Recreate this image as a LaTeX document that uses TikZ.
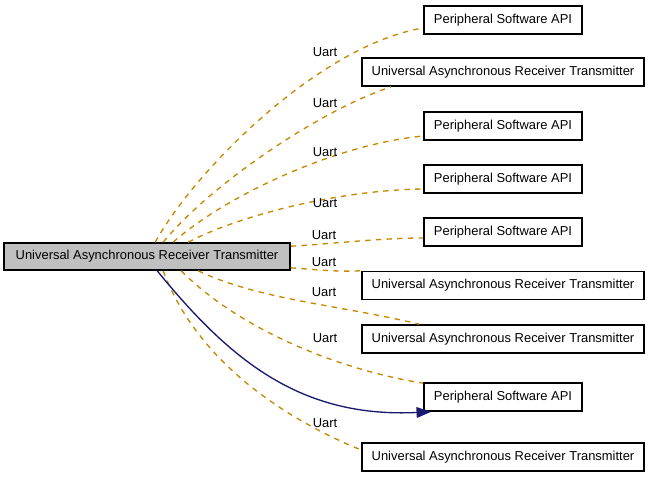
\documentclass[tikz,border=0pt]{standalone}
\usepackage{fontspec}
\setmainfont{Liberation Sans}
\usetikzlibrary{calc,arrows.meta}
\definecolor{edgeor}{RGB}{200,135,0}
\definecolor{boxgray}{RGB}{191,192,191}
\definecolor{navy}{RGB}{25,25,112}
\begin{document}
\begin{tikzpicture}[x=0.75pt,y=-0.75pt,
  txt/.style={font=\fontsize{9.7}{11}\selectfont},
  box/.style={txt,draw=black,line width=1.2pt,minimum height=21pt,inner sep=0pt},
  pbox/.style={box,minimum width=118.5pt},
  ubox/.style={box,minimum width=211.5pt},
  mbox/.style={box,fill=boxgray,minimum width=214.5pt,minimum height=20.25pt},
  dep/.style={draw=edgeor,line width=1pt,dash pattern=on 4pt off 4pt},
  lbl/.style={txt,inner sep=0pt}]
\useasboundingbox (0,0) rectangle (651,479);
\node[mbox] (main) at (147,256.5) {Universal Asynchronous Receiver Transmitter};
\node[pbox] (p1) at (503,20) {Peripheral Software API};
\node[ubox] (u2) at (503,72) {Universal Asynchronous Receiver Transmitter};
\node[pbox] (p3) at (503,126) {Peripheral Software API};
\node[pbox] (p4) at (503,179) {Peripheral Software API};
\node[pbox] (p5) at (503,232) {Peripheral Software API};
\node[ubox] (u6) at (503,285.5) {Universal Asynchronous Receiver Transmitter};
\node[ubox] (u7) at (503,339) {Universal Asynchronous Receiver Transmitter};
\node[pbox] (p8) at (503,397) {Peripheral Software API};
\node[ubox] (u9) at (503,457) {Universal Asynchronous Receiver Transmitter};
% dashed edges
\draw[dep] ($(main.north west)+(152,0)$) .. controls (195,170) and (320,45) .. ($(p1.west)+(0,8)$);
\draw[dep] ($(main.north west)+(160,0)$) .. controls (210,185) and (320,110) .. ($(u2.south west)+(30,0)$);
\draw[dep] ($(main.north west)+(170,0)$) .. controls (220,200) and (330,145) .. ($(p3.west)+(0,10)$);
\draw[dep] ($(main.north west)+(185,0)$) .. controls (240,215) and (340,190) .. ($(p4.west)+(0,10)$);
\draw[dep] ($(main.north east)+(0,4)$) .. controls (330,244) and (380,238) .. ($(p5.west)+(0,6)$);
\draw[dep] ($(main.south east)+(0,-3)$) .. controls (320,270) and (340,272) .. ($(u6.north west)+(0,0)$);
\draw[dep] ($(main.south west)+(195,0)$) .. controls (260,300) and (340,305) .. ($(u7.north west)+(58,0)$);
\draw[dep] ($(main.south west)+(178,0)$) .. controls (240,330) and (340,370) .. ($(p8.north west)+(0,1)$);
\draw[dep] ($(main.south west)+(160,0)$) .. controls (200,370) and (300,425) .. ($(u9.west)+(0,-7)$);
% solid edge
\draw[draw=navy,line width=1pt,-{Triangle[length=11pt,width=8pt]}] ($(main.south west)+(154,0)$) .. controls (230,360) and (300,418) .. ($(p8.south west)+(8,0)$);
% labels
\node[lbl] (l1) at (325,52) {Uart};
\node[lbl] (l2) at (325,103) {Uart};
\node[lbl] (l3) at (325,152) {Uart};
\node[lbl] (l4) at (325,203) {Uart};
\node[lbl] (l5) at (324,235) {Uart};
\node[lbl] (l6) at (324,262) {Uart};
\node[lbl] (l7) at (324,292) {Uart};
\node[lbl] (l8) at (325,338) {Uart};
\node[lbl] (l9) at (325,423) {Uart};
\end{tikzpicture}
\end{document}
